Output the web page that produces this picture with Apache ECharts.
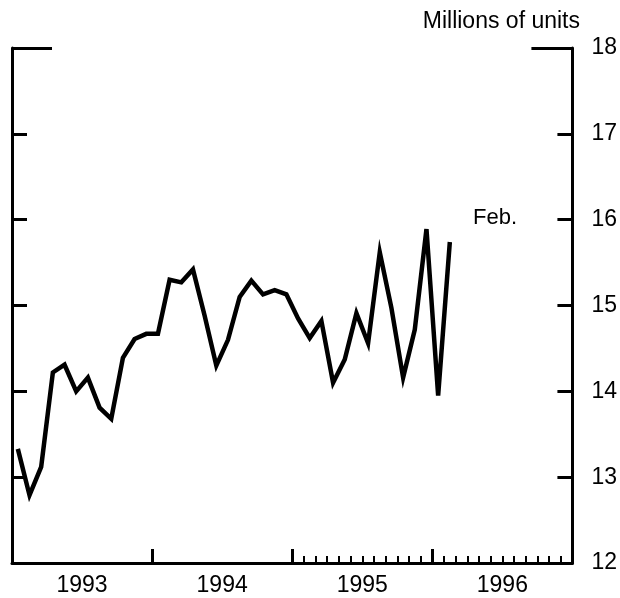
<!DOCTYPE html>
<html>
<head>
<meta charset="utf-8">
<script src="https://cdn.jsdelivr.net/npm/echarts@6/dist/echarts.min.js"></script>
<style>html,body{margin:0;padding:0;background:#fff}#c{width:620px;height:598px}</style>
</head>
<body>
<div id="c"></div>
<script>
// Data (monthly, Jan 1993 – Feb 1996), millions of units
const years = ["1993", "1994", "1995", "1996"];
const months = [];
const monthNames = ["Jan","Feb","Mar","Apr","May","Jun","Jul","Aug","Sep","Oct","Nov","Dec"];
for (const y of years) for (const m of monthNames) months.push(m + " " + y);
const values = [
  13.33, 12.79, 13.12, 14.22, 14.31, 14.00, 14.16, 13.81, 13.68, 14.39, 14.61, 14.67,
  14.67, 15.30, 15.27, 15.42, 14.88, 14.30, 14.60, 15.10, 15.29, 15.13, 15.18, 15.13,
  14.85, 14.62, 14.82, 14.10, 14.37, 14.91, 14.56, 15.62, 14.97, 14.16, 14.72, 15.89,
  13.95, 15.74
];
const yTicks = [12, 13, 14, 15, 16, 17, 18];
const unitLabel = "Millions of units";
const lastLabel = "Feb.";

const FONT = "Liberation Sans, Arial, sans-serif";
const chart = echarts.init(document.getElementById('c'), null, {renderer: 'canvas'});
const black = '#000';
chart.setOption({
  animation: false,
  backgroundColor: '#fff',
  grid: {left: 12, right: 40, top: 48, bottom: 35, containLabel: false},
  xAxis: [
    {
      type: 'category', data: years, position: 'bottom', boundaryGap: true,
      axisLine: {show: true, lineStyle: {color: black, width: 3}},
      axisTick: {show: true, inside: true, length: 14, alignWithLabel: false, lineStyle: {color: black, width: 3}},
      axisLabel: {show: true, color: black, fontSize: 23, fontFamily: FONT, margin: 11},
      splitLine: {show: false}
    },
    {
      type: 'category', data: months, position: 'bottom', boundaryGap: true,
      axisLine: {show: false},
      axisTick: {show: true, inside: true, length: 7, alignWithLabel: false,
        interval: function (idx) { return idx >= 24; },
        lineStyle: {color: black, width: 2}},
      axisLabel: {show: false},
      splitLine: {show: false}
    }
  ],
  yAxis: [
    {
      type: 'value', position: 'right', min: yTicks[0], max: yTicks[yTicks.length - 1], interval: 1,
      axisLine: {show: true, lineStyle: {color: black, width: 3}},
      axisTick: {show: true, inside: true, length: 15, lineStyle: {color: black, width: 3}},
      axisLabel: {show: true, color: black, fontSize: 23, fontFamily: FONT, margin: 19},
      splitLine: {show: false}
    },
    {
      type: 'value', position: 'left', min: yTicks[0], max: yTicks[yTicks.length - 1], interval: 1,
      axisLine: {show: true, lineStyle: {color: black, width: 3}},
      axisTick: {show: true, inside: true, length: 15, lineStyle: {color: black, width: 3}},
      axisLabel: {show: false},
      splitLine: {show: false}
    },
    {
      type: 'value', position: 'right', min: 12, max: 18, interval: 6,
      axisLine: {show: false},
      axisTick: {show: true, inside: true, length: 41, lineStyle: {color: black, width: 3}},
      axisLabel: {show: false},
      splitLine: {show: false}
    },
    {
      type: 'value', position: 'left', min: 12, max: 18, interval: 6,
      axisLine: {show: false},
      axisTick: {show: true, inside: true, length: 40, lineStyle: {color: black, width: 3}},
      axisLabel: {show: false},
      splitLine: {show: false}
    }
  ],
  series: [{
    type: 'line', xAxisIndex: 1, yAxisIndex: 0,
    data: values, symbol: 'none', smooth: false,
    lineStyle: {color: black, width: 4.5, join: 'miter'}
  }],
  graphic: [
    {type: 'text', right: 40, top: 10, style: {text: unitLabel, font: '23px ' + FONT, fill: black}},
    {type: 'text', left: 473, top: 207, style: {text: lastLabel, font: '22px ' + FONT, fill: black}}
  ]
});
</script>
</body>
</html>
